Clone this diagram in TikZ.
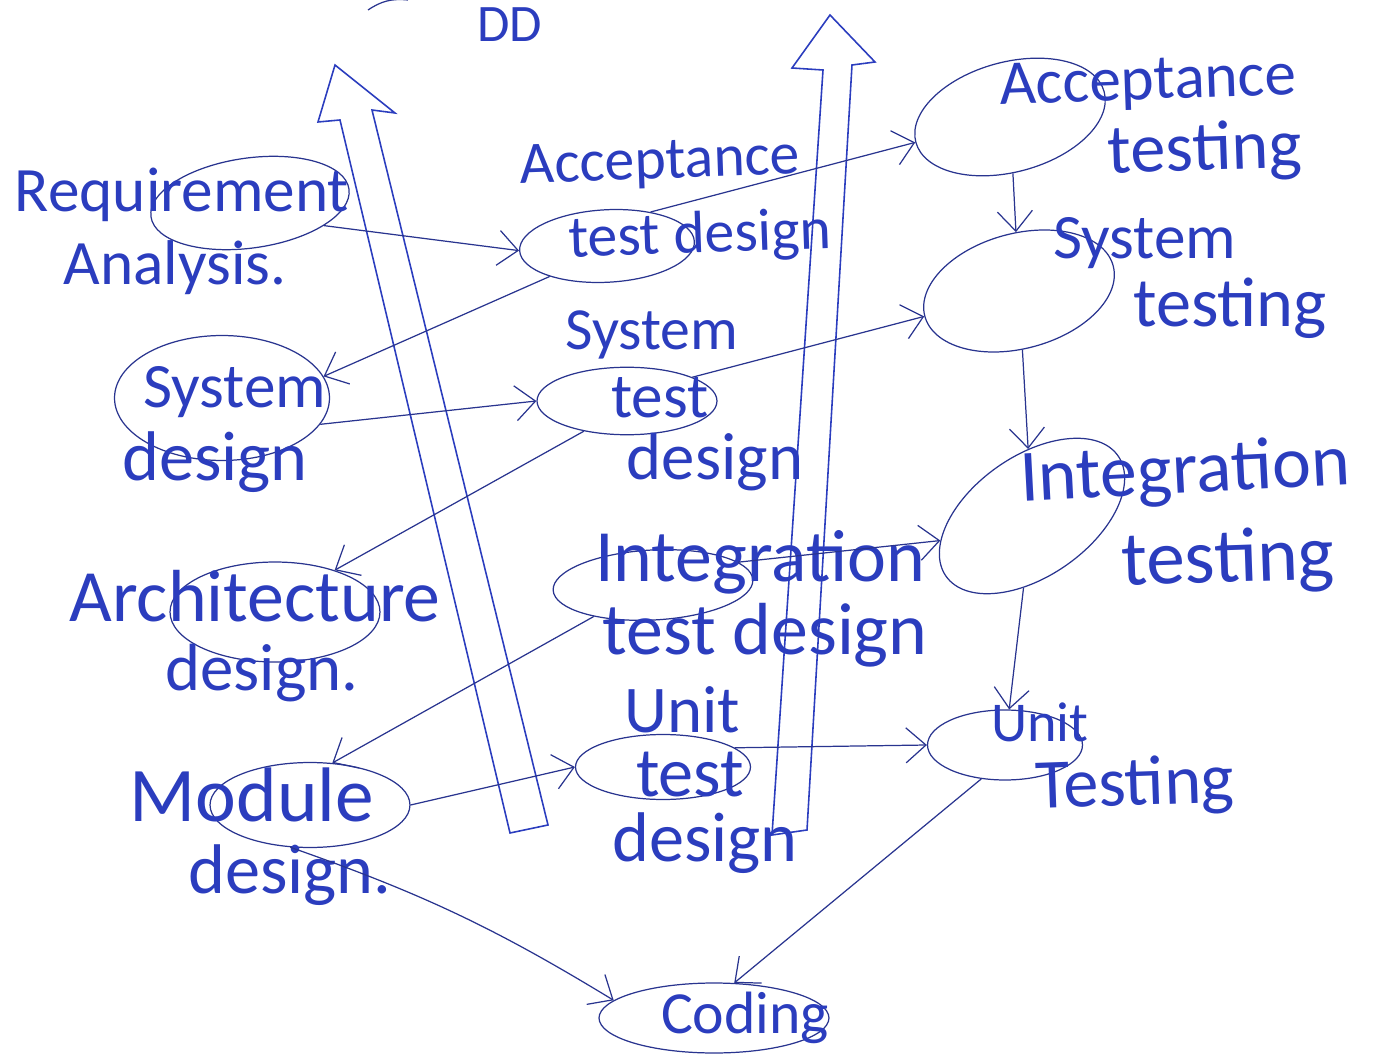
\documentclass[tikz,border=0pt]{standalone}
\usepackage{fontspec}
\setmainfont{Carlito}
\usetikzlibrary{arrows.meta,shapes.geometric}
\definecolor{pen}{HTML}{2B3DBE}
\definecolor{penline}{HTML}{29348F}

\begin{document}
\begin{tikzpicture}[x=0.02cm,y=-0.02cm,
  stage/.style={draw=penline,ellipse,line width=0.7pt,inner sep=0pt},
  lbl/.style={text=pen,inner sep=0pt},
  flow/.style={draw=penline,line width=0.7pt,-{Straight Barb[length=4mm,width=7mm]}},
  hollow/.style={draw=pen,line width=0.9pt}]
\useasboundingbox (0,0) rectangle (1383,1057);
% ellipses round the stages
\foreach \n/\x/\y/\w/\h/\r in {reqE/250/203/4/1.8/8,sysdE/222/398/4.3/2.5/0,archE/275/612/4.2/2/0,modE/310/805/4/1.7/0,
  atdE/607/246/3.5/1.45/3,stdE/627/401/3.6/1.35/0,itdE/653/585/4/1.4/3,utdE/663/767/3.5/1.3/0,
  atE/1010/117/3.9/2.2/15,stE/1019/291/3.9/2.3/15,itE/1032/516/4.2/2.4/35,utE/1005/745/3.1/1.4/0,codE/714/1018/4.6/1.4/0}{
  \node[stage,minimum width=\w cm,minimum height=\h cm,rotate=\r] (\n) at (\x,\y) {};
}
% handwritten labels
\foreach \n/\x/\y/\s/\r/\t in {reqA/182/195/36/0/Requirement,reqB/175/268/36/0/Analysis.,
  sysdA/235/392/36/0/System,sysdB/215/462/40/0/design,
  archA/255/596/42/0/Architecture,archB/262/673/38/0/design.,
  modA/252/795/44/0/Module,modB/290/875/40/0/design.,
  atdA/660/164/34/2/Acceptance,atdB/700/237/34/2/test design,
  stdA/652/335/34/0/System,stdB/660/398/36/0/test,stdC/715/462/38/0/design,
  itdA/760/562/42/0/Integration,itdB/765/635/42/0/test design,
  utdA/682/710/38/0/Unit,utdB/690/775/40/0/test,utdC/705/843/40/0/design,
  atA/1148/84/36/2/Acceptance,atB/1205/152/40/2/testing,
  stA/1145/243/36/0/System,stB/1230/308/40/0/testing,
  itA/1185/474/42/3/Integration,itB/1228/562/44/2/testing,
  utA/1040/722/32/0/Unit,utB/1135/787/40/2/Testing,
  codA/745/1018/34/0/Coding,topA/510/25/30/0/DD}{
  \node[lbl,font=\fontsize{\s}{\s}\selectfont,rotate=\r] (\n) at (\x,\y) {\t};
}
\draw[penline,line width=0.7pt] (368,10) to[bend left=20] (408,0);
% the two big up arrows
\draw[hollow] (510,833) -- (340,120) -- (318,122) -- (335,65) -- (395,113) -- (372,110) -- (548,825) -- cycle;
\draw[hollow] (772,835) -- (823,70) -- (792,68) -- (830,15) -- (875,62) -- (852,65) -- (807,830) -- cycle;
% design side
\draw[flow] (reqE.-25) -- (atdE.west);
\draw[flow] (atdE.205) -- (sysdE.12);
\draw[flow] (sysdE.-15) -- (stdE.west);
\draw[flow] (stdE.215) -- (archE.35);
\draw[flow] (itdE.205) -- (modE.62);
\draw[flow] (modE.east) -- (utdE.west);
% test side
\draw[flow] (atdE.35) -- (atE.west);
\draw[flow] (stdE.20) -- (stE.west);
\draw[flow] (itdE.12) -- (itE.160);
\draw[flow] (utdE.15) -- (utE.west);
\draw[flow] (atE) -- (stE);
\draw[flow] (stE) -- (itE);
\draw[flow] (itE) -- (utE);
\draw[flow] (modE.-115) to[bend left=6] (codE.170);
\draw[flow] (utE.235) -- (codE.60);
\end{tikzpicture}
\end{document}
